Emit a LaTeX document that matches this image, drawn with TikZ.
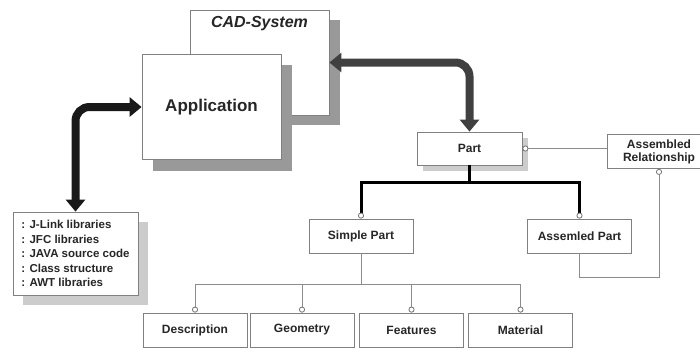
\documentclass[tikz,border=0pt]{standalone}
\usepackage{fontspec}
\setmainfont{Liberation Sans}
\usetikzlibrary{arrows.meta,shadows}
\begin{document}
\begin{tikzpicture}[x=1pt,y=-1pt,font=\bfseries\fontsize{12}{14.5}\selectfont,text=black!85,
  box/.style={draw=black!50,fill=white,line width=0.8pt,inner sep=2pt},
  bigbox/.style={box,minimum width=139pt,minimum height=105pt,
    drop shadow={shadow xshift=11pt,shadow yshift=-10pt,fill=black!40,opacity=1}},
  partbox/.style={box,minimum width=104pt,minimum height=34pt},
  bigarrow/.style={line width=8pt,rounded corners=14pt,
    {Triangle[length=12pt,width=19pt]}-{Triangle[length=12pt,width=19pt]}},
  link/.style={draw=black!45,line width=0.9pt},
  ring/.tip={Circle[length=6pt,width=6pt,fill=white,line width=0.8pt,color=black!55]}]
\useasboundingbox (0,0) rectangle (700,349);
\node[bigbox,label={[anchor=north,yshift=-3pt,font=\bfseries\itshape\fontsize{16}{18}\selectfont]north:CAD-System}] (cad) at (259.5,62.5) {};
\node[bigbox,font=\bfseries\fontsize{17}{20}\selectfont,
  drop shadow={shadow xshift=11pt,shadow yshift=-11pt,fill=black!40,opacity=1}] (app) at (211.5,107) {Application};
\node[box,minimum width=125pt,minimum height=83pt,align=left,font=\bfseries\fontsize{11.5}{14.5}\selectfont,
  drop shadow={shadow xshift=10pt,shadow yshift=-10pt,fill=black!20,opacity=1}] (libs) at (75.5,253.5)
  {: J-Link libraries\\: JFC libraries\\: JAVA source code\\: Class structure\\: AWT libraries};
\node[partbox,minimum width=105pt,minimum height=33pt,
  drop shadow={shadow xshift=6pt,shadow yshift=-6pt,fill=black!20,opacity=1}] (part) at (469.5,148.5) {Part};
\node[partbox,align=center,font=\bfseries\fontsize{12}{13}\selectfont] (rel) at (659,151.5) {Assembled\\Relationship};
\node[partbox] (simple) at (361,236) {Simple Part};
\node[partbox] (assem) at (579.5,236) {Assemled Part};
\node[partbox] (desc) at (195,330) {Description};
\node[partbox] (geom) at (302,330) {Geometry};
\node[partbox] (feat) at (411.5,330) {Features};
\node[partbox] (mat) at (520.5,330) {Material};
\draw[bigarrow,black!90] (libs.north) |- (app.west);
\draw[bigarrow,black!75] (cad.east) -| (part.north);
\draw[line width=3pt,-ring] (part.south) -- ++(0,17) -| (simple.north);
\draw[line width=3pt,-ring] (part.south) -- ++(0,17) -| (assem.north);
\foreach \n in {desc,geom,feat,mat}
  \draw[link,-ring] (simple.south) -- ++(0,31) -| (\n.north);
\draw[link,ring-] (part.east) -- (part.east -| rel.west);
\draw[link,-ring] (assem.south) -- ++(0,24) -| (rel.south);
\end{tikzpicture}
\end{document}
